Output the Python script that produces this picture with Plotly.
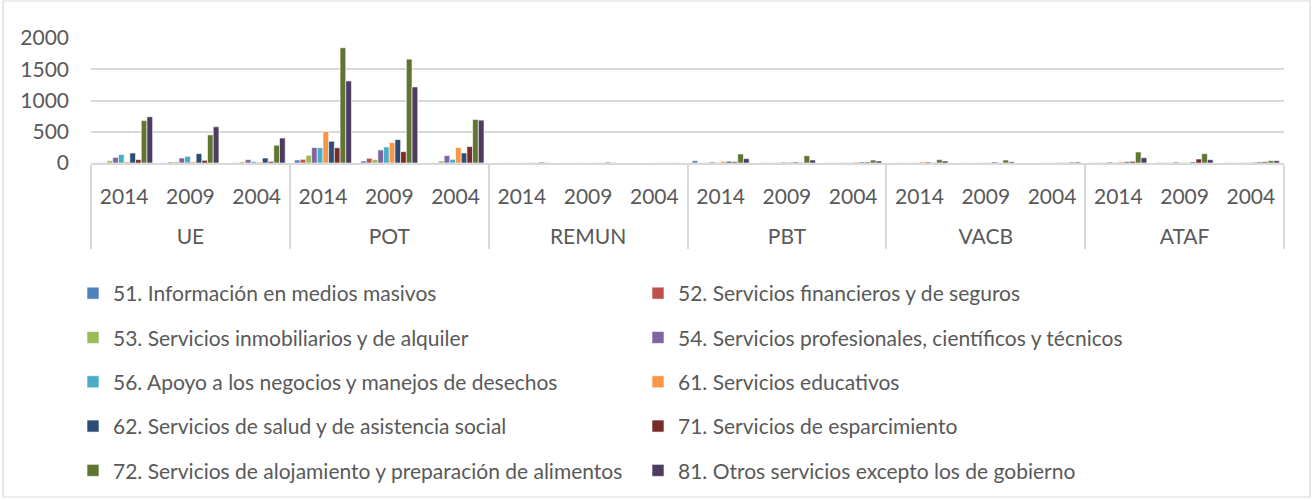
import plotly.graph_objects as go

groups = ["UE", "POT", "REMUN", "PBT", "VACB", "ATAF"]
years = ["2014", "2009", "2004"]

series_names = [
    "51. Información en medios masivos",
    "52. Servicios financieros y de seguros",
    "53. Servicios inmobiliarios y de alquiler",
    "54. Servicios profesionales, científicos y técnicos",
    "56. Apoyo a los negocios y manejos de desechos",
    "61. Servicios educativos",
    "62. Servicios de salud y de asistencia social",
    "71. Servicios de esparcimiento",
    "72. Servicios de alojamiento y preparación de alimentos",
    "81. Otros servicios excepto los de gobierno",
]

# values in order UE(2014,2009,2004), POT(...), REMUN, PBT, VACB, ATAF
s51 = [3, 2, 2, 48, 32, 3, 1, 1, 1, 37, 5, 4, 2, 2, 1, 6, 8, 4]
s52 = [5, 15, 5, 59, 75, 4, 2, 2, 1, 8, 4, 5, 3, 2, 1, 8, 6, 5]
s53 = [37, 20, 20, 123, 54, 32, 3, 2, 1, 6, 5, 4, 3, 2, 1, 8, 7, 5]
s54 = [90, 80, 54, 247, 209, 118, 2, 2, 1, 16, 8, 5, 4, 3, 2, 16, 16, 8]
s56 = [135, 107, 25, 245, 257, 59, 2, 2, 1, 10, 16, 8, 6, 5, 3, 10, 8, 6]
s61 = [20, 20, 15, 504, 327, 247, 3, 2, 2, 27, 16, 16, 20, 8, 5, 20, 10, 16]
s62 = [160, 150, 80, 348, 375, 160, 4, 3, 2, 27, 16, 16, 16, 16, 8, 20, 16, 16]
s71 = [54, 43, 25, 245, 182, 263, 2, 2, 1, 20, 6, 16, 6, 5, 4, 27, 64, 20]
s72 = [680, 450, 284, 1844, 1662, 697, 15, 14, 4, 144, 117, 48, 53, 48, 16, 176, 150, 37]
s81 = [740, 580, 400, 1313, 1217, 686, 3, 3, 2, 70, 48, 32, 32, 20, 16, 85, 53, 37]

all_values = [s51, s52, s53, s54, s56, s61, s62, s71, s72, s81]
colors = ["#4F81BD", "#C0504D", "#9BBB59", "#8064A2", "#4BACC6",
          "#F79646", "#2C4D75", "#772C2A", "#5F7530", "#4D3B62"]

# the outer (group) level is shown one line lower, as in the reference
x_outer = ["<br>" + g for g in groups for _ in years]
x_inner = [y for _ in groups for y in years]

FONT = "Lato"
TXT = "#595959"

fig = go.Figure()
for i, (name, vals, col) in enumerate(zip(series_names, all_values, colors)):
    fig.add_trace(go.Bar(
        x=[x_outer, x_inner], y=vals, name=name,
        marker=dict(color=col, line=dict(color="white", width=0.6)),
        legend="legend" if i % 2 == 0 else "legend2",
        legendgroup=f"g{i}",
    ))

L_PX, R_PX, T_PX, B_PX = 91, 1284, 38, 163
W, H = 1314, 500
pw = R_PX - L_PX
ph = B_PX - T_PX

def px_x(px):
    return (px - L_PX) / pw

def px_y(py):
    return (B_PX - py) / ph

legend_common = dict(
    font=dict(family=FONT, size=21, color=TXT),
    bgcolor="rgba(0,0,0,0)",
    orientation="v",
    xanchor="left", yanchor="top",
    tracegroupgap=14,
    itemclick=False, itemdoubleclick=False,
    itemwidth=30,
)

fig.update_layout(
    width=W, height=H,
    margin=dict(l=L_PX, r=W - R_PX, t=T_PX, b=H - B_PX, pad=0, autoexpand=False),
    paper_bgcolor="white", plot_bgcolor="white",
    barmode="group", bargap=0.14, bargroupgap=0.0,
    font=dict(family=FONT, color=TXT),
    legend=dict(legend_common, x=px_x(73), y=px_y(273)),
    legend2=dict(legend_common, x=px_x(638), y=px_y(273)),
    xaxis=dict(
        type="multicategory",
        showline=True, linecolor="#d9d9d9", linewidth=1.5,
        showdividers=True, dividercolor="#d9d9d9", dividerwidth=1.5,
        tickfont=dict(family=FONT, size=21, color=TXT),
        showgrid=False, ticks="",
        ticklabelstandoff=14,
    ),
    yaxis=dict(
        range=[0, 2000], tickvals=[0, 500, 1000, 1500, 2000],
        showgrid=True, gridcolor="#d9d9d9", gridwidth=1.5,
        zeroline=False, showline=False, ticks="",
        tickfont=dict(family=FONT, size=21, color=TXT),
        ticklabelstandoff=21,
    ),
    shapes=[dict(
        type="rect", xref="paper", yref="paper",
        x0=px_x(3), x1=px_x(1310), y0=px_y(497), y1=px_y(1),
        line=dict(color="#d9d9d9", width=1.2), fillcolor="rgba(0,0,0,0)",
        layer="below",
    )],
)

fig.write_html(
    "out.html",
    config={"displayModeBar": False},
    post_script="document.body.style.margin='0';",
)
